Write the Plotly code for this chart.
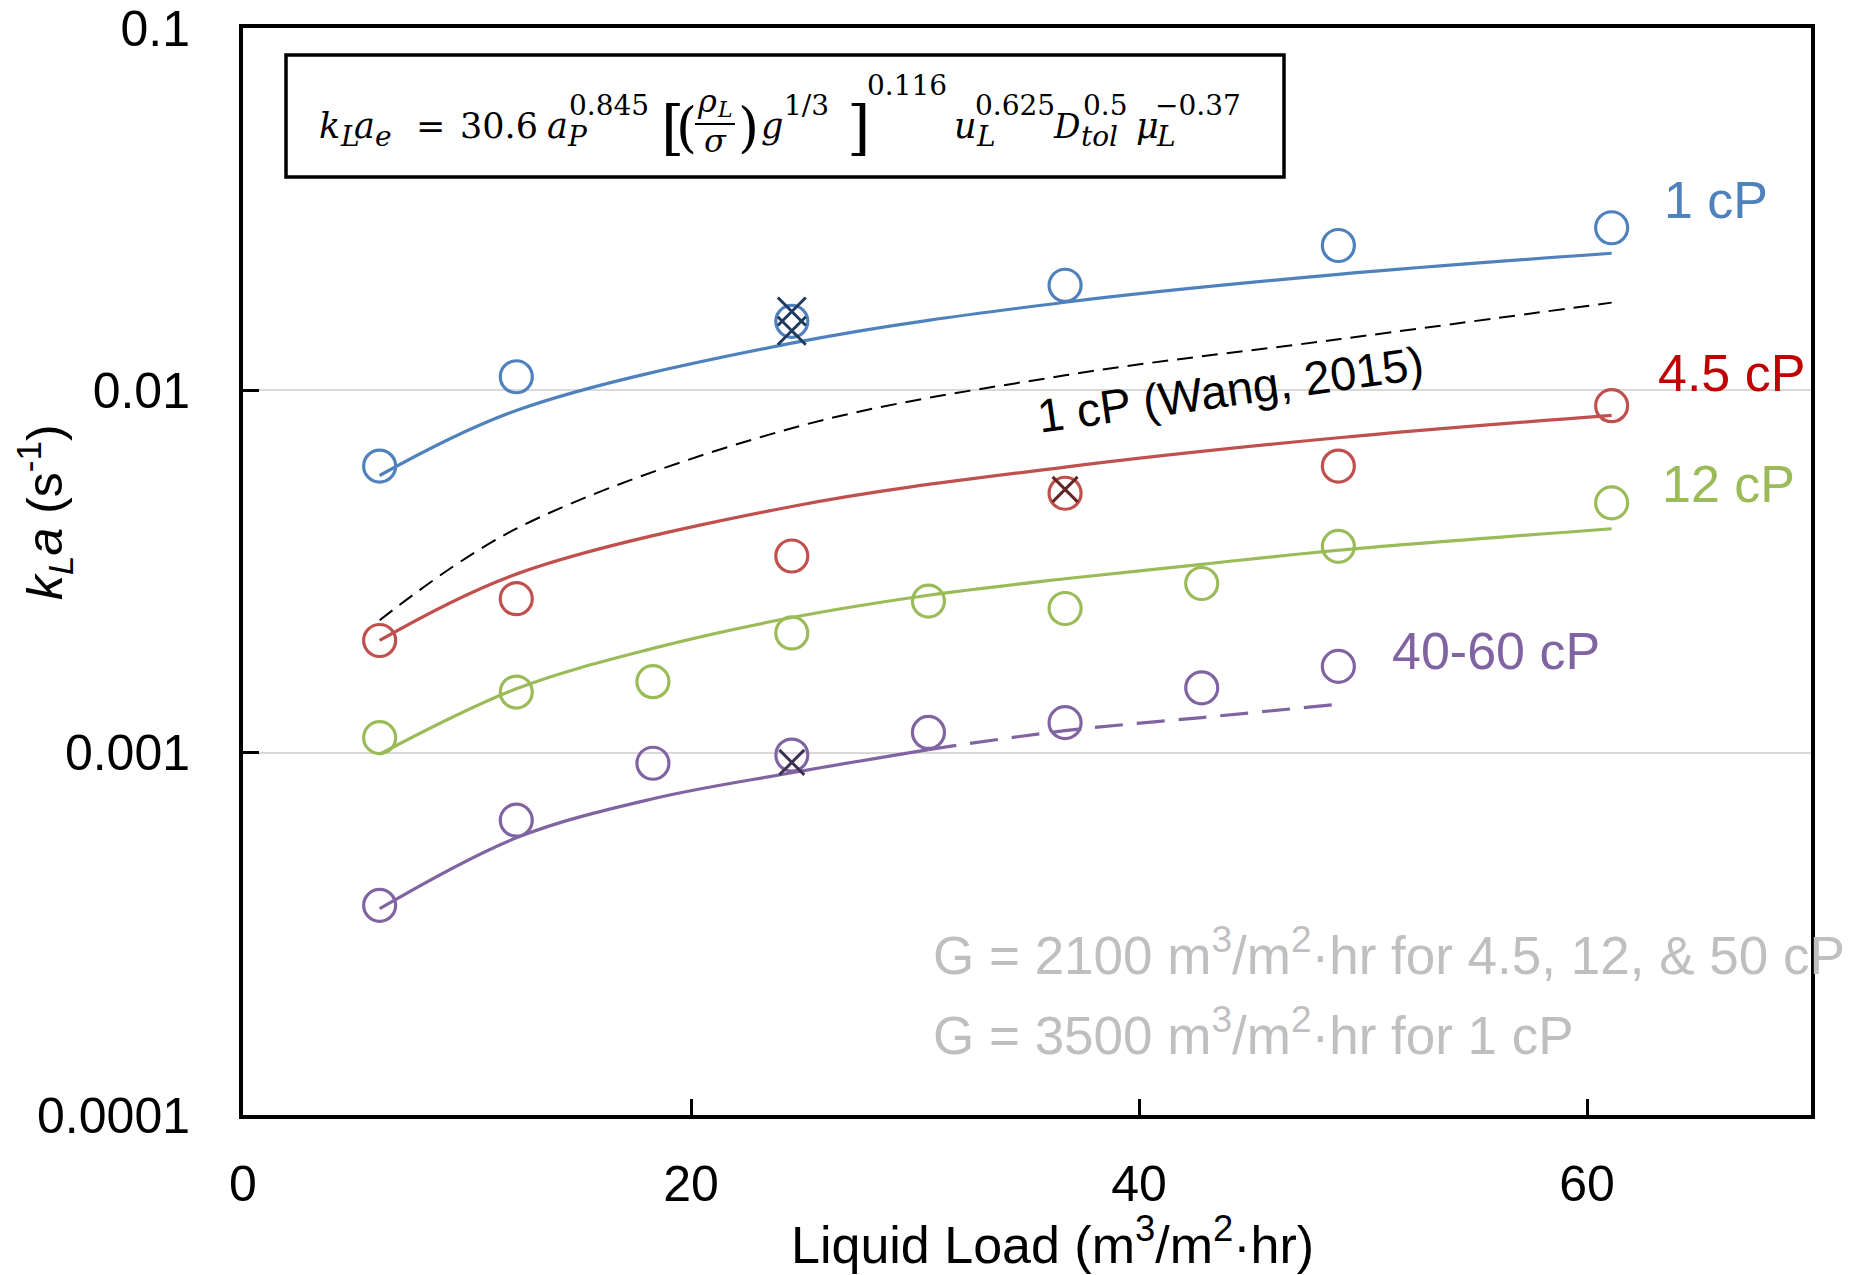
import plotly.graph_objects as go

# ---------------- data ----------------
x_1cp = [6.1, 12.2, 24.5, 36.7, 48.9, 61.1]
y_1cp = [0.00618, 0.0109, 0.0155, 0.0195, 0.0251, 0.0281]
y_1cp_model = [0.00582, 0.0088, 0.0135, 0.0175, 0.0209, 0.0239]
y_wang_1cp = [0.00232, 0.00415, 0.00786, 0.0110, 0.01383, 0.01746]

x_45cp = [6.1, 12.2, 24.5, 36.7, 48.9, 61.1]
y_45cp = [0.00204, 0.00266, 0.00349, 0.0052, 0.00618, 0.00907]
y_45cp_model = [0.00204, 0.00311, 0.00478, 0.00614, 0.0074, 0.00853]

x_12cp = [6.1, 12.2, 18.3, 24.5, 30.6, 36.7, 42.8, 48.9, 61.1]
y_12cp = [0.00110, 0.00147, 0.00157, 0.00214, 0.00262, 0.00250, 0.00293, 0.00371, 0.00489]
y_12cp_model = [0.00099, 0.00150, 0.00194, 0.00236, 0.00272, 0.00302, 0.00331, 0.00362, 0.00415]

x_50cp = [6.1, 12.2, 18.3, 24.5, 30.6, 36.7, 42.8, 48.9]
y_50cp = [0.000379, 0.000651, 0.000935, 0.000985, 0.001137, 0.00121, 0.00151, 0.00173]
x_50cp_model = [6.1, 12.2, 18.3, 24.5, 30.6]
y_50cp_model = [0.000371, 0.000582, 0.000746, 0.00088, 0.00102]
x_50cp_extrap = [30.6, 36.7, 42.8, 48.9]
y_50cp_extrap = [0.00102, 0.001150, 0.001250, 0.00136]

# excluded points (crossed out)
x_excl_1cp = [24.5, 24.5]
y_excl_1cp = [0.0165, 0.0146]
x_excl_45cp = [36.7]
y_excl_45cp = [0.00533]
x_excl_50cp = [24.5]
y_excl_50cp = [0.00094]

x_ticks = [0, 20, 40, 60]
y_ticks = [0.0001, 0.001, 0.01, 0.1]
y_ticktext = ["0.0001", "0.001", "0.01", "0.1"]

BLUE = "#4F81BD"
RED = "#C0504D"
GREEN = "#9BBB59"
PURPLE = "#8064A2"

fig = go.Figure()

def model_line(x, y, color, dash="solid", width=3.2):
    fig.add_trace(go.Scatter(x=x, y=y, mode="lines",
                             line=dict(color=color, width=width, dash=dash, shape="spline", smoothing=1.0),
                             showlegend=False, hoverinfo="skip"))

def points(x, y, color):
    fig.add_trace(go.Scatter(x=x, y=y, mode="markers",
                             marker=dict(symbol="circle-open", size=32, color=color, line=dict(width=3.2, color=color)),
                             showlegend=False))

def crosses(x, y, color, size=27):
    fig.add_trace(go.Scatter(x=x, y=y, mode="markers",
                             marker=dict(symbol="x-thin-open", size=size, color=color, line=dict(width=3, color=color)),
                             showlegend=False))

model_line(x_1cp, y_1cp_model, BLUE)
model_line(x_1cp, y_wang_1cp, "black", dash="16px,9px", width=2)
model_line(x_45cp, y_45cp_model, RED)
model_line(x_12cp, y_12cp_model, GREEN)
model_line(x_50cp_model, y_50cp_model, PURPLE)
model_line(x_50cp_extrap, y_50cp_extrap, PURPLE, dash="28px,14px")

points(x_1cp, y_1cp, BLUE)
points(x_45cp, y_45cp, RED)
points(x_12cp, y_12cp, GREEN)
points(x_50cp, y_50cp, PURPLE)

crosses(x_excl_1cp, y_excl_1cp, "#1F3A5F", size=28)
crosses(x_excl_45cp, y_excl_45cp, "#632523", size=25)
crosses(x_excl_50cp, y_excl_50cp, "#3F3151", size=25)

# ---------------- layout helpers (pixel -> paper) ----------------
PL, PT, PW, PH = 243, 28, 1568, 1087
def px(x):
    return (x - PL) / PW
def py(y):
    return (PT + PH - y) / PH

annotations = []
shapes = []

SANS = "Liberation Sans, Arial, sans-serif"
SERIF = "DejaVu Serif, serif"

def label(text, x, y, size, color, xanchor="left", angle=0):
    annotations.append(dict(text=text, x=px(x), y=py(y), xref="paper", yref="paper",
                            xanchor=xanchor, yanchor="middle", showarrow=False, textangle=angle,
                            font=dict(family=SANS, size=size, color=color)))

def eq(text, x, base, size, italic=True):
    t = f"<i>{text}</i>" if italic else text
    annotations.append(dict(text=t, x=px(x), y=py(base - 0.346 * size), xref="paper", yref="paper",
                            xanchor="left", yanchor="middle", showarrow=False, borderpad=0,
                            font=dict(family=SERIF, size=size, color="black")))

# series labels
label("1 cP", 1662, 200, 52, BLUE)
label("4.5 cP", 1656, 373, 52, "#C00000")
label("12 cP", 1660, 484, 52, GREEN)
label("40-60 cP", 1390, 651, 52, PURPLE)
label("1 cP (Wang, 2015)", 1230, 390, 47, "black", xanchor="center", angle=-8)
label("G = 2100 m<sup>3</sup>/m<sup>2</sup>·hr for 4.5, 12, &amp; 50 cP", 931, 951, 53, "#BFBFBF")
label("G = 3500 m<sup>3</sup>/m<sup>2</sup>·hr for 1 cP", 931, 1031, 53, "#BFBFBF")

# axis titles
label("Liquid Load (m<sup>3</sup>/m<sup>2</sup>·hr)", 1052, 1241, 52, "black", xanchor="center")
label("<i>k<sub>L</sub>a</i> (s<sup>-1</sup>)", 45, 512, 50, "black", xanchor="center", angle=-90)

# equation box
shapes.append(dict(type="rect", xref="paper", yref="paper",
                   x0=px(286), x1=px(1284), y0=py(177), y1=py(55),
                   line=dict(color="black", width=3.5), fillcolor="white", layer="above"))

MB = 138   # main baseline
SB = 146   # subscript baseline
UB = 115   # superscript baseline
eq("k", 318, MB, 35)
eq("L", 339, SB, 28)
eq("a", 353, MB, 35)
eq("e", 374, SB, 28)
eq("=", 415, MB, 35, italic=False)
eq("30.6", 459, MB, 35, italic=False)
eq("a", 546, MB, 35)
eq("P", 566, SB, 28)
eq("0.845", 568, UB, 28, italic=False)
eq("[", 660, 148, 60, italic=False)
eq("(", 675, 146, 54, italic=False)
eq("ρ", 696, 112, 32)
eq("L", 716, 117, 22)
shapes.append(dict(type="line", xref="paper", yref="paper",
                   x0=px(695), x1=px(735), y0=py(124), y1=py(124),
                   line=dict(color="black", width=2), layer="above"))
eq("σ", 703, 152, 32)
eq(")", 737, 146, 54, italic=False)
eq("g", 760, MB, 35)
eq("1/3", 783, UB, 28, italic=False)
eq("]", 846, 148, 60, italic=False)
eq("0.116", 866, 95, 28, italic=False)
eq("u", 953, MB, 35)
eq("L", 975, SB, 28)
eq("0.625", 974, UB, 28, italic=False)
eq("D", 1052, MB, 33)
eq("tol", 1080, SB, 28)
eq("0.5", 1082, UB, 28, italic=False)
eq("μ", 1135, MB, 35)
eq("L", 1155, SB, 28)
eq("−0.37", 1154, UB, 28, italic=False)

fig.update_layout(
    width=1858, height=1275,
    margin=dict(l=243, r=47, t=28, b=160, autoexpand=False),
    paper_bgcolor="white", plot_bgcolor="white",
    showlegend=False,
    annotations=annotations,
    shapes=shapes,
    xaxis=dict(range=[0, 70], tickvals=x_ticks, ticks="inside", ticklen=16, tickwidth=3,
               tickcolor="black", showline=True, linecolor="black", linewidth=4, mirror=True,
               showgrid=False, zeroline=False, ticklabelstandoff=22,
               tickfont=dict(family=SANS, size=50, color="black")),
    yaxis=dict(type="log", range=[-4, -1], tickvals=y_ticks, ticktext=y_ticktext,
               ticks="inside", ticklen=16, tickwidth=3, tickcolor="black",
               showline=True, linecolor="black", linewidth=4, mirror=True,
               showgrid=True, gridcolor="#D9D9D9", gridwidth=1.5, zeroline=False,
               ticklabelstandoff=39,
               tickfont=dict(family=SANS, size=50, color="black")),
)

fig.write_html("out.html")
